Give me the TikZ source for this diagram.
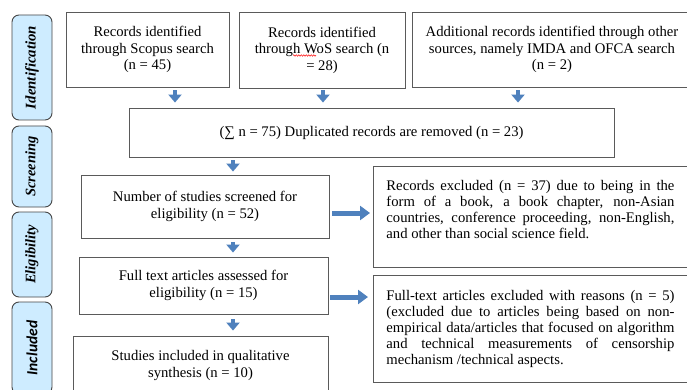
\documentclass[tikz,border=0pt]{standalone}
\usepackage{fontspec}
\setmainfont{Liberation Serif}
\newfontfamily\tabsans{Carlito}
\usetikzlibrary{arrows.meta,decorations.pathmorphing}
\definecolor{arrblue}{RGB}{79,129,189}
\definecolor{tabfill}{RGB}{206,236,255}
\definecolor{boxline}{RGB}{90,90,90}
\definecolor{tabline}{RGB}{70,70,70}
\begin{document}
\begin{tikzpicture}[x=1pt,y=-1pt,
  txt/.style={font=\fontsize{14.67}{16.5}\selectfont},
  box/.style={draw=boxline, line width=0.9pt, align=center, inner sep=0pt, txt},
  exbox/.style={draw=boxline, line width=0.9pt, inner xsep=13pt, anchor=north west, txt},
  tab/.style={draw=tabline, fill=tabfill, line width=0.9pt, rounded corners=7pt, rotate=90, minimum height=40pt, inner sep=0pt},
  darr/.style={draw=arrblue, line width=4.5pt, -{Triangle[width=13pt,length=8pt]}},
  rarr/.style={draw=arrblue, line width=5pt, -{Triangle[width=14pt,length=10pt]}},
  spell/.style={draw=red, line width=0.5pt, decorate, decoration={snake, segment length=2.5pt, amplitude=0.7pt}}
]
\useasboundingbox (0,0) rectangle (687,390);
\fill[white] (0,0) rectangle (687,390);
\clip (0,0) rectangle (687,390);

% phase tabs
\node[tab, minimum width=105pt] (t1) at (32,67.5) {\fontsize{14.8}{16}\selectfont\bfseries\itshape Identification};
\node[tab, minimum width=81pt] (t2) at (32,166.5) {\fontsize{14.5}{16}\selectfont\bfseries\itshape Screening};
\node[tab, minimum width=85pt] (t3) at (32,254.5) {\fontsize{14.5}{16}\selectfont\bfseries\itshape Eligibility};
\node[tab, minimum width=92pt] (t4) at (32,348) {\tabsans\fontsize{15.5}{16}\selectfont\bfseries\itshape Included};

% boxes
\node[box, minimum width=163pt, minimum height=75pt] (scopus) at (147.5,49.5) {Records identified\\through Scopus search\\(n = 45)};
\node[box, minimum width=166pt, minimum height=76pt] (wos) at (322,50) {Records identified\\through WoS search (n\\= 28)};
\node[box, minimum width=280pt, minimum height=75pt] (add) at (552,49.5) {Additional records identified through other\\sources, namely IMDA and OFCA search\\(n = 2)};
\node[box, minimum width=485pt, minimum height=49pt] (dup) at (371.5,132.5) {(∑ n = 75) Duplicated records are removed (n = 23)};
\node[box, minimum width=248pt, minimum height=63pt] (scr) at (205,206.5) {Number of studies screened for\\eligibility (n = 52)};
\node[box, minimum width=249pt, minimum height=57pt] (full) at (203.5,285.5) {Full text articles assessed for\\eligibility (n = 15)};
\node[box, minimum width=255pt, minimum height=59pt] (stud) at (200.5,365.5) {Studies included in qualitative\\synthesis (n = 10)};

\node[exbox, inner ysep=14pt] (ex1) at (373,166) {\makebox[330pt][l]{\parbox[c][73pt][t]{288pt}{\fontsize{14.67}{16}\selectfont Records excluded (n = 37) due to being in the\linebreak form of a book, a book chapter, non-Asian\linebreak countries, conference proceeding, non-English,\linebreak and other than social science field.}}};
\node[exbox, inner ysep=15pt] (ex2) at (373,275) {\makebox[330pt][l]{\parbox[c][77pt][t]{288pt}{\fontsize{14.67}{16}\selectfont Full-text articles excluded with reasons (n = 5)\linebreak (excluded due to articles being based on non-\linebreak empirical data/articles that focused on algorithm\linebreak and technical measurements of censorship\linebreak mechanism /technical aspects.}}};

% spell-check underline under "WoS"
\draw[spell] (293,55.5) -- (316,55.5);

% connectors
\coordinate (a1) at (175,0);
\coordinate (a2) at (323,0);
\coordinate (a3) at (518,0);
\coordinate (a4) at (233,0);
\coordinate (r1) at (0,213);
\coordinate (r2) at (0,297);
\draw[darr, shorten <=3pt, shorten >=5pt] (scopus.south -| a1) -- (dup.north -| a1);
\draw[darr, shorten <=2pt, shorten >=5pt] (wos.south -| a2) -- (dup.north -| a2);
\draw[darr, shorten <=3pt, shorten >=5pt] (add.south -| a3) -- (dup.north -| a3);
\draw[darr, shorten <=3pt, shorten >=3pt] (dup.south -| a4) -- (scr.north -| a4);
\draw[darr, shorten <=4pt, shorten >=4pt] (scr.south -| a4) -- (full.north -| a4);
\draw[darr, shorten <=5pt, shorten >=5pt] (full.south -| a4) -- (stud.north -| a4);
\draw[rarr, shorten <=3pt, shorten >=3pt] (scr.east |- r1) -- (ex1.west |- r1);
\draw[rarr, shorten <=2pt, shorten >=5pt] (full.east |- r2) -- (ex2.west |- r2);
\end{tikzpicture}
\end{document}
